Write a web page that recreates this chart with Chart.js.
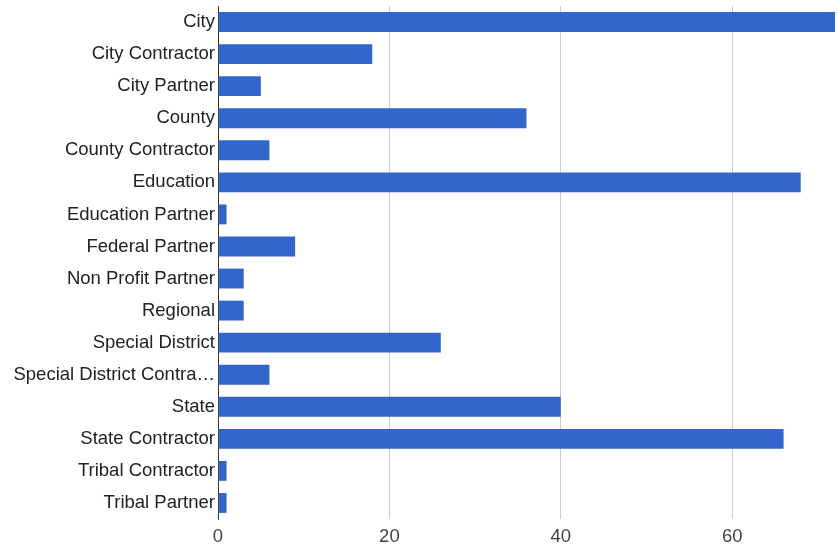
<!DOCTYPE html>
<html>
<head>
<meta charset="utf-8">
<script src="https://cdn.jsdelivr.net/npm/chart.js@4/dist/chart.umd.min.js"></script>
<style>
  html, body { margin: 0; padding: 0; background: #fff; }
  #wrap { width: 838px; height: 551px; }
</style>
</head>
<body>
<div id="wrap"><canvas id="grafico"></canvas></div>
<script>
// categorias e valores
const categorias = [
    "City", "City Contractor", "City Partner", "County", "County Contractor",
    "Education", "Education Partner", "Federal Partner", "Non Profit Partner",
    "Regional", "Special District", "Special District Contra\u2026", "State",
    "State Contractor", "Tribal Contractor", "Tribal Partner"
];
const valores = [72, 18, 5, 36, 6, 68, 1, 9, 3, 3, 26, 6, 40, 66, 1, 1];
const ticksX = [0, 20, 40, 60];

const fonte = { family: "Liberation Sans, Arial", size: 18.5 };

const ctx = document.getElementById("grafico").getContext("2d");
new Chart(ctx, {
    type: "bar",
    data: {
        labels: categorias,
        datasets: [{
            data: valores,
            backgroundColor: "#3366cc",
            borderWidth: 0,
            categoryPercentage: 0.62,
            barPercentage: 1
        }]
    },
    options: {
        indexAxis: "y",
        responsive: true,
        maintainAspectRatio: false,
        animation: false,
        layout: { padding: { left: 0, right: 3, top: 6, bottom: 0 } },
        plugins: { legend: { display: false }, tooltip: { enabled: false } },
        scales: {
            x: {
                min: 0,
                max: 72,
                afterBuildTicks: (axis) => {
                    axis.ticks = ticksX.map(v => ({ value: v }));
                },
                afterFit: (axis) => { axis.height = 32; },
                grid: {
                    drawTicks: false,
                    color: (c) => c.tick && c.tick.value === 0 ? "rgba(0,0,0,0)" : "#cccccc"
                },
                border: { display: false },
                ticks: { padding: 7, color: "#444", font: fonte }
            },
            y: {
                afterFit: (axis) => {
                    axis.width = 218;
                    // sem folga extra em cima/embaixo
                    axis.paddingTop = 0;
                    axis.paddingBottom = 0;
                },
                grid: { display: false, drawTicks: false },
                border: { display: true, color: "#333", width: 1 },
                ticks: { padding: 3, color: "#222", autoSkip: false, font: fonte }
            }
        }
    }
});
</script>
</body>
</html>
